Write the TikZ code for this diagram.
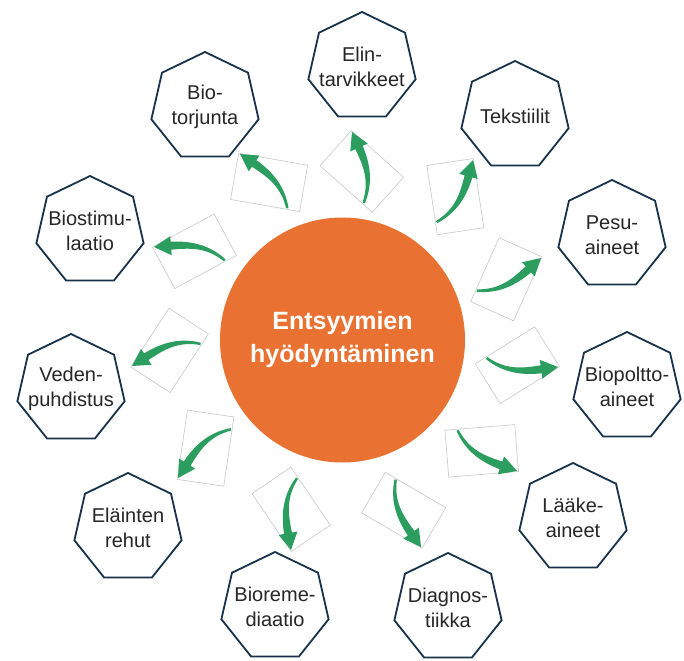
\documentclass[tikz,border=0pt]{standalone}
\usepackage{fontspec}
\setmainfont{Liberation Sans}
\usetikzlibrary{shapes.geometric}
\definecolor{orangeC}{HTML}{E97132}
\definecolor{navyC}{HTML}{17324A}
\definecolor{greenC}{HTML}{2A9D5F}
\tikzset{
  hept/.style={regular polygon, regular polygon sides=7, minimum size=110pt, inner sep=0pt,
    draw=navyC, line width=1.8pt, fill=white},
  heptlabel/.style={inner sep=0pt, text=black!85, align=center,
    font=\fontsize{20}{24.5}\selectfont},
  hub/.style={circle, fill=orangeC, minimum size=245pt, inner sep=0pt, text=white, align=center,
    font=\bfseries\fontsize{25}{33}\selectfont},
  iconbox/.style={draw=black!22, line width=0.6pt, fill=white},
  arrowicon/.pic={
    \path[iconbox, x=1pt, y=1pt, shift={(-40.5,-3.3)}, rotate=39] (-35,-23.5) rectangle (35,23.5);
    \fill[greenC, x=1pt, y=1pt] (-71.4,1.04) .. controls (-51.95,-9.27) and (-36.65,-6.20) .. (-17.46,-0.54)
      -- (-18.88,4.78) -- (0,0) -- (-13.96,-13.58) -- (-15.38,-8.26)
      .. controls (-34.83,-12.96) and (-53.95,-12.73) .. (-72.6,-1.04) -- cycle;
  }
}
\begin{document}
\begin{tikzpicture}[x=1pt,y=-1pt]
\useasboundingbox (0,0) rectangle (684,660);
\fill[white] (0,0) rectangle (684,660);

\node[hub] (hub) at (342.5,340) {Entsyymien\\hyödyntäminen};

\node[hept] (h1) at (362,67) {};
\node[hept] (h2) at (515,116) {};
\node[hept] (h3) at (612,235) {};
\node[hept] (h4) at (627,387) {};
\node[hept] (h5) at (573,518) {};
\node[hept] (h6) at (448,608) {};
\node[hept] (h7) at (275,607) {};
\node[hept] (h8) at (128,528) {};
\node[hept] (h9) at (71,389) {};
\node[hept] (h10) at (90,231) {};
\node[hept] (h11) at (205,107) {};

\node[heptlabel] (t1) at (h1) {Elin-\\tarvikkeet};
\node[heptlabel] (t2) at (h2) {Tekstiilit};
\node[heptlabel] (t3) at (h3) {Pesu-\\aineet};
\node[heptlabel] (t4) at (h4) {Biopoltto-\\aineet};
\node[heptlabel] (t5) at (h5) {Lääke-\\aineet};
\node[heptlabel] (t6) at (h6) {Diagnos-\\tiikka};
\node[heptlabel] (t7) at (h7) {Bioreme-\\diaatio};
\node[heptlabel] (t8) at (h8) {Eläinten\\rehut};
\node[heptlabel] (t9) at (h9) {Veden-\\puhdistus};
\node[heptlabel] (t10) at (h10) {Biostimu-\\laatio};
\node[heptlabel] (t11) at (h11) {Bio-\\torjunta};

\coordinate (p1) at (352,132);
\coordinate (p2) at (473,160);
\coordinate (p3) at (541,258);
\coordinate (p4) at (558,367);
\coordinate (p5) at (517,471);
\coordinate (p6) at (421,547);
\coordinate (p7) at (291,550);
\coordinate (p8) at (178,478);
\coordinate (p9) at (132,366);
\coordinate (p10) at (154,247);
\coordinate (p11) at (240,154);

\pic[rotate=99.3] at (p1) {arrowicon};
\pic[rotate=59.6] at (p2) {arrowicon};
\pic[rotate=26.9] at (p3) {arrowicon};
\pic[rotate=-7.2] at (p4) {arrowicon};
\pic[rotate=-34.4] at (p5) {arrowicon};
\pic[rotate=-69.4] at (p6) {arrowicon};
\pic[rotate=-94.8] at (p7) {arrowicon};
\pic[rotate=-137.4] at (p8) {arrowicon};
\pic[rotate=-162.1] at (p9) {arrowicon};
\pic[rotate=169.3] at (p10) {arrowicon};
\pic[rotate=131.1] at (p11) {arrowicon};
\end{tikzpicture}
\end{document}
